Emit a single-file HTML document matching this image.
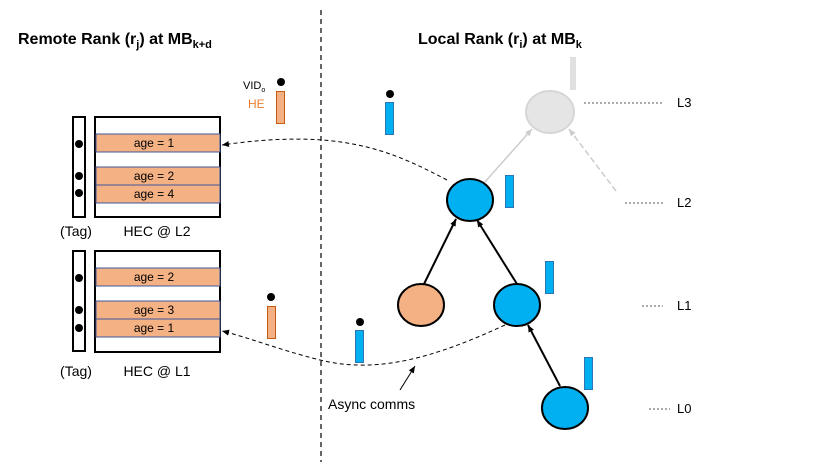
<!DOCTYPE html><html><head><style>body{margin:0;background:#fff}svg{display:block}text{font-family:"Liberation Sans",sans-serif}</style></head><body>
<svg width="830" height="467" viewBox="0 0 830 467" xmlns="http://www.w3.org/2000/svg">
<defs><marker id="a" markerWidth="8" markerHeight="8" refX="7" refY="4" orient="auto" markerUnits="userSpaceOnUse"><path d="M0,1 L7,4 L0,7z" fill="#000"/></marker>
<marker id="g" markerWidth="8" markerHeight="8" refX="7" refY="4" orient="auto" markerUnits="userSpaceOnUse"><path d="M0,1 L7,4 L0,7z" fill="#ccc"/></marker></defs>
<text x="18" y="44" font-size="16" font-weight="bold">Remote Rank (r<tspan font-size="11" dy="4">j</tspan><tspan dy="-4">) at MB</tspan><tspan font-size="11" dy="4">k+d</tspan></text>
<text x="418" y="44" font-size="16" font-weight="bold">Local Rank (r<tspan font-size="11" dy="4">i</tspan><tspan dy="-4">) at MB</tspan><tspan font-size="11" dy="4">k</tspan></text>
<line x1="321" y1="10" x2="321" y2="462" stroke="#000" stroke-dasharray="5,4" stroke-width="1.2"/>
<g stroke="#000" stroke-width="2" fill="#fff"><rect x="73" y="117" width="12" height="100"/><rect x="95" y="117" width="125" height="100"/><rect x="73" y="251" width="12" height="100"/><rect x="95" y="251" width="125" height="101"/></g>
<g fill="#f4b183" stroke="#41589b" stroke-width="1"><rect x="96" y="134" width="124" height="18"/><rect x="96" y="167" width="124" height="18"/><rect x="96" y="185" width="124" height="18"/><rect x="96" y="268" width="124" height="18"/><rect x="96" y="301" width="124" height="18"/><rect x="96" y="319" width="124" height="18"/></g>
<g font-size="12" text-anchor="middle"><text x="154" y="147">age = 1</text><text x="154" y="180">age = 2</text><text x="154" y="198">age = 4</text><text x="154" y="281">age = 2</text><text x="154" y="314">age = 3</text><text x="154" y="332">age = 1</text>
<text x="76" y="236" font-size="14">(Tag)</text><text x="157" y="236" font-size="14">HEC @ L2</text><text x="76" y="376" font-size="14">(Tag)</text><text x="157" y="376" font-size="14">HEC @ L1</text></g>
<g fill="#000"><circle cx="79" cy="144" r="4"/><circle cx="79" cy="176" r="4"/><circle cx="79" cy="193" r="4"/><circle cx="79" cy="278" r="4"/><circle cx="79" cy="310" r="4"/><circle cx="79" cy="328" r="4"/>
<circle cx="281" cy="82" r="4"/><circle cx="271" cy="297" r="4"/><circle cx="390" cy="94" r="4"/><circle cx="360" cy="322" r="4"/></g>
<text x="243" y="89" font-size="11">VID<tspan font-size="7" dy="3">o</tspan></text><text x="248" y="108" font-size="12" fill="#ed7d31">HE</text>
<g fill="#f4b183" stroke="#c55a11"><rect x="276.5" y="91.5" width="8" height="32"/><rect x="267.5" y="306.5" width="8" height="32"/></g>
<g fill="#00b0f0" stroke="#2e75b6"><rect x="385.5" y="102.5" width="8" height="32"/><rect x="505.5" y="175.5" width="8" height="32"/><rect x="545.5" y="261.5" width="8" height="32"/><rect x="584.5" y="357.5" width="8" height="32"/><rect x="355.5" y="330.5" width="8" height="32"/></g>
<rect x="570" y="57" width="6" height="33" fill="#e0e0e0"/>
<ellipse cx="550" cy="112" rx="24" ry="21" fill="#e5e5e5" stroke="#d6d6d6" stroke-width="2"/>
<line x1="484" y1="183" x2="532" y2="129" stroke="#ccc" stroke-width="1.5" marker-end="url(#g)"/>
<line x1="616" y1="191" x2="569" y2="129" stroke="#ccc" stroke-width="1.5" stroke-dasharray="6,3" marker-end="url(#g)"/>
<g stroke="#000" stroke-width="2" marker-end="url(#a)"><line x1="424" y1="284" x2="456" y2="219"/><line x1="517" y1="284" x2="477" y2="220"/><line x1="560" y1="386" x2="528" y2="325"/></g>
<g stroke="#000" stroke-width="2"><ellipse cx="470" cy="200" rx="23" ry="21" fill="#00b0f0"/><ellipse cx="421" cy="305" rx="23" ry="21" fill="#f4b183"/><ellipse cx="517" cy="305" rx="23" ry="21" fill="#00b0f0"/><ellipse cx="565" cy="408" rx="23" ry="21" fill="#00b0f0"/></g>
<g fill="none" stroke="#000" stroke-width="1" stroke-dasharray="4,3"><path d="M447,180 C390,150 340,128 222,145" marker-end="url(#a)"/><path d="M505,325 C440,355 380,375 320,360 C280,350 250,338 222,331" marker-end="url(#a)"/></g>
<line x1="400" y1="390" x2="415" y2="366" stroke="#000" stroke-width="1" marker-end="url(#a)"/>
<text x="328" y="409" font-size="14">Async comms</text>
<g stroke="#555" stroke-dasharray="2,2" stroke-width="1"><line x1="584" y1="103" x2="663" y2="103"/><line x1="625" y1="203" x2="663" y2="203"/><line x1="642" y1="306" x2="663" y2="306"/><line x1="649" y1="409" x2="670" y2="409"/></g>
<g font-size="13"><text x="677" y="107">L3</text><text x="677" y="207">L2</text><text x="677" y="310">L1</text><text x="677" y="413">L0</text></g>
</svg></body></html>
